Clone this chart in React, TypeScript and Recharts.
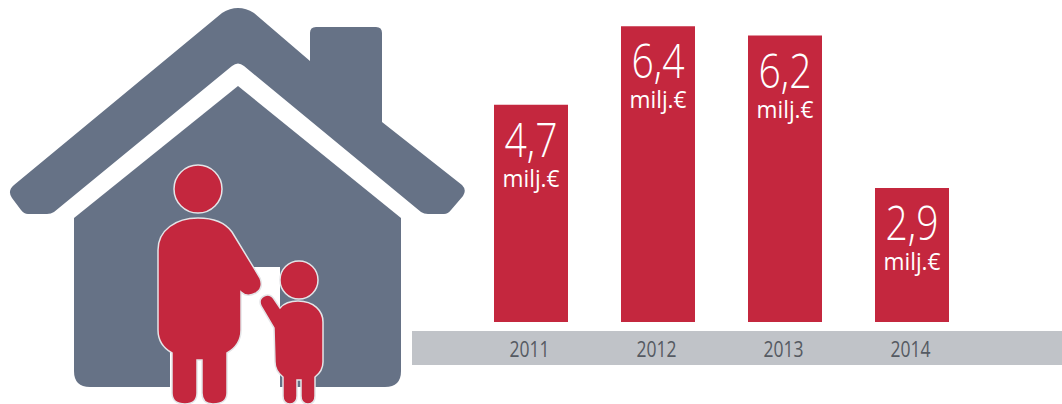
import React from 'react';
import {BarChart, Bar, XAxis, YAxis, LabelList} from 'recharts';

const years = ['2011', '2012', '2013', '2014'];
const amounts = [4.7, 6.4, 6.2, 2.9];
const unit = 'milj.€';

const data = years.map((year, i) => ({year, amount: amounts[i]}));

const RED = '#c4273e';
const SLATE = '#667286';
const BAND = '#c0c3c8';
const FONT = '"Open Sans", sans-serif';

// house and the two figures, plus the grey strip under the bars
function Backdrop() {
    return (
        <svg width={1062} height={404} style={{position: 'absolute', left: 0, top: 0}}>
            <rect x={412} y={331} width={650} height={34} fill={BAND} />

            {/* roof with chimney */}
            <path
                fill={SLATE}
                d="M222,13 Q238,3 254,13 L310,61 L310,33 Q310,27 316,27 L376,27 Q382,27 382,33 L382,122
                   L462,185 Q467,190 463,196 L451,210 Q448,214 444,214 L428,214 Q424,214 421,212
                   L244,66 Q238,61 232,66 L54,212 Q51,214 47,214 L28,214 Q24,214 21,210 L12,198 Q7,191 14,185 Z"
            />
            {/* walls */}
            <path
                fill={SLATE}
                d="M238,86 L401,218 L401,371 Q401,387 385,387 L90,387 Q74,387 74,371 L74,218 Z"
            />
            {/* door */}
            <rect x={170} y={267} width={110} height={137} fill="#fff" />

            <g fill={RED} stroke="#e4e5e8" strokeWidth={1.5}>
                <circle cx={198} cy={189} r={24} />
                <path d="M198,218 C212,218 224,221 232,232 L260,278 Q264,288 256,293 Q247,298 241,292
                         L241,330 Q241,345 227,353 L227,393 Q227,404 213,404 Q202,404 202,393 L202,360 L197,360
                         L197,393 Q197,404 185,404 Q172,404 172,393 L172,353 Q158,345 158,330 L158,250
                         C158,230 176,218 198,218 Z" />
                <circle cx={299} cy={280} r={19} />
                <path d="M298,301 C314,301 323,311 323,322 L323,362 Q323,371 315,377 L315,396 Q315,404 308,404
                         Q301,404 301,396 L301,380 L297,380 L297,396 Q297,404 290,404 Q283,404 283,396 L283,377
                         Q275,371 275,362 L274,328 L261,306 Q258,299 264,296 Q270,293 274,299 L280,308
                         Q286,301 298,301 Z" />
            </g>
        </svg>
    );
}

function YearTick({x, y, payload}: any) {
    return (
        <text
            x={x - 1}
            y={y + 27}
            textAnchor="middle"
            fontFamily={FONT}
            fontSize={22}
            fill="#555a62"
            textLength={40}
            lengthAdjust="spacingAndGlyphs"
        >
            {payload.value}
        </text>
    );
}

function AmountLabel({x, y, width, value}: any) {
    const cx = x + width / 2;
    return (
        <text fill="#fff" fontFamily={FONT} textAnchor="middle">
            <tspan x={cx} y={y + 52} fontSize={47} fontWeight={300} textLength={53} lengthAdjust="spacingAndGlyphs">
                {String(value).replace('.', ',')}
            </tspan>
            <tspan x={cx} y={y + 82} fontSize={24} textLength={57} lengthAdjust="spacingAndGlyphs">
                {unit}
            </tspan>
        </text>
    );
}

export default function App() {
    return (
        <div style={{position: 'absolute', left: 0, top: 0, width: 1062, height: 404, overflow: 'hidden', background: '#fff'}}>
            <Backdrop />
            <div style={{position: 'absolute', left: 0, top: 0}}>
                <BarChart
                    width={1062}
                    height={404}
                    data={data}
                    barSize={74}
                    margin={{top: 0, right: 87, left: 467, bottom: 0}}
                >
                    <XAxis
                        dataKey="year"
                        height={82}
                        axisLine={false}
                        tickLine={false}
                        interval={0}
                        tick={<YearTick />}
                    />
                    <YAxis hide domain={[0, 6.97]} />
                    <Bar dataKey="amount" fill={RED} isAnimationActive={false}>
                        <LabelList dataKey="amount" content={<AmountLabel />} />
                    </Bar>
                </BarChart>
            </div>
        </div>
    );
}
